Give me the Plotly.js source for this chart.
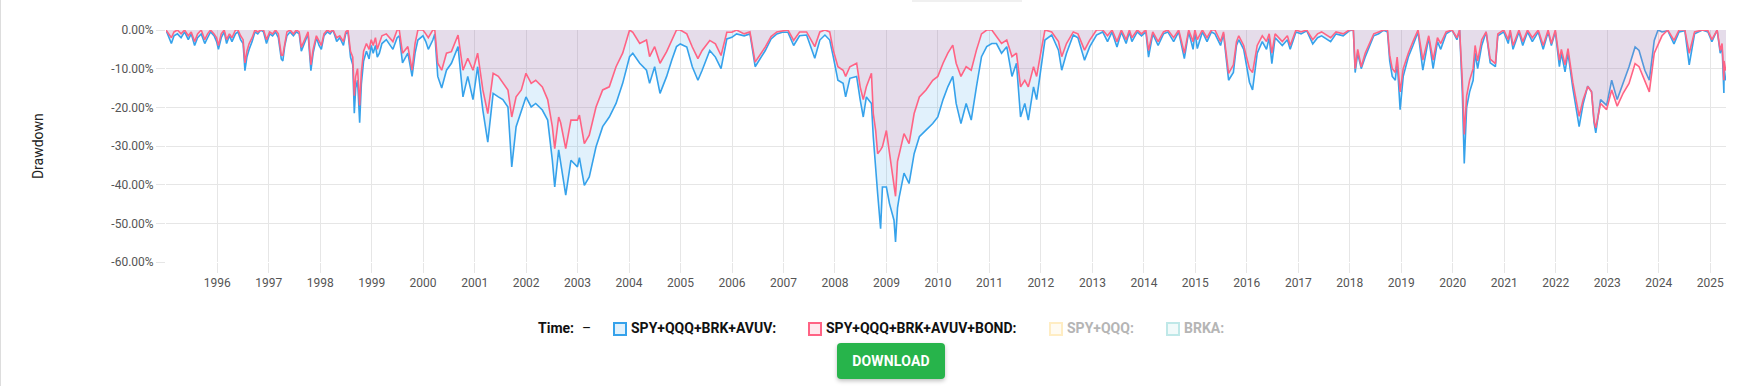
<!DOCTYPE html>
<html>
<head>
<meta charset="utf-8">
<script src="https://cdn.plot.ly/plotly-3.0.1.min.js"></script>
<style>
  html, body { margin:0; padding:0; background:#fff; width:1762px; height:386px; overflow:hidden; font-family: Roboto, "Noto Sans", sans-serif; }
  #chart { position:absolute; left:0; top:0; width:1762px; height:386px; }
  .edge { position:absolute; left:0; top:0; width:1px; height:386px; background:#dddddd; }
  .topshadow { position:absolute; left:912px; top:0; width:110px; height:2px; background:rgba(0,0,0,0.06); }
  .lg { position:absolute; top:319px; height:18px; line-height:18px; font-size:14px; font-weight:700; color:#111; white-space:nowrap; }
  .lg.off { color:#b5b5b5; }
  .box { position:absolute; top:322px; width:10px; height:10px; border:2px solid; }
  #dl { position:absolute; left:837px; top:343px; width:108px; height:36px; background:#27b44b; color:#fff; border:none; border-radius:4px;
        font-family: Roboto, sans-serif; font-size:14px; font-weight:700; letter-spacing:0.2px; box-shadow:0 2px 4px rgba(0,0,0,0.25); padding:0; }
</style>
</head>
<body>
<div id="chart"></div>
<div class="edge"></div>
<div class="topshadow"></div>
<div id="legend"></div>
<button id="dl">DOWNLOAD</button>
<script>
// ---------- DATA (drawdown %) ----------
const dates = [
  "1995-01-03","1995-01-25","1995-02-10","1995-03-01","1995-03-25","1995-04-20","1995-05-15","1995-06-10","1995-07-01","1995-07-25","1995-08-15","1995-09-10","1995-10-05","1995-10-25","1995-11-15","1995-12-10","1995-12-28",
  "1996-01-10","1996-01-30","1996-02-20","1996-03-08","1996-03-28","1996-04-15","1996-05-10","1996-05-28","1996-06-15","1996-07-03","1996-07-16","1996-07-30","1996-08-15","1996-09-05","1996-09-25","1996-10-15","1996-11-05","1996-11-25","1996-12-16",
  "1997-01-08","1997-01-28","1997-02-18","1997-03-10","1997-03-31","1997-04-11","1997-04-25","1997-05-10","1997-06-01","1997-06-25","1997-07-15","1997-08-05","1997-08-20","1997-09-05","1997-10-07","1997-10-27","1997-11-12","1997-12-05","1997-12-24",
  "1998-01-09","1998-01-28","1998-02-20","1998-03-12","1998-04-02","1998-04-28","1998-05-20","1998-06-15","1998-07-01","1998-07-17","1998-08-04","1998-08-20","1998-08-31","1998-09-10","1998-09-23","1998-10-08","1998-10-20","1998-11-05","1998-11-25","1998-12-14","1998-12-29",
  "1999-01-12","1999-01-28","1999-02-10","1999-02-25","1999-03-15","1999-04-15","1999-05-10","1999-06-01","1999-07-01","1999-07-16","1999-08-08","1999-09-15","1999-10-15","1999-11-05","1999-11-25","1999-12-31",
  "2000-01-20","2000-02-07","2000-03-10","2000-03-24","2000-04-14","2000-05-12","2000-06-15","2000-07-20","2000-09-05","2000-10-10","2000-11-13","2000-12-20",
  "2001-01-22","2001-02-28","2001-04-04","2001-05-12","2001-06-18","2001-07-20","2001-08-25","2001-09-21","2001-10-22","2001-11-28","2001-12-31",
  "2002-02-06","2002-03-10","2002-04-26","2002-06-03","2002-07-06","2002-07-23","2002-08-20","2002-09-03","2002-10-09","2002-11-15","2002-12-31",
  "2003-01-14","2003-02-18","2003-03-25","2003-05-12","2003-06-28","2003-08-14","2003-10-01","2003-11-17",
  "2004-01-05","2004-01-28","2004-03-17","2004-05-04","2004-05-26","2004-07-01","2004-08-08","2004-09-24","2004-10-30","2004-12-03","2004-12-30",
  "2005-02-14","2005-03-25","2005-05-04","2005-06-03","2005-07-27","2005-09-05","2005-10-15","2005-11-25","2005-12-31",
  "2006-02-02","2006-03-28","2006-05-08","2006-06-01","2006-06-14","2006-08-25","2006-10-05","2006-11-15","2006-12-24",
  "2007-02-02","2007-03-14","2007-04-25","2007-06-14","2007-08-11","2007-09-16","2007-10-22","2007-11-25","2007-12-20",
  "2008-01-22","2008-02-28","2008-03-17","2008-04-16","2008-06-03","2008-06-28","2008-07-20","2008-08-11","2008-09-16","2008-09-29","2008-10-16","2008-10-30","2008-11-20","2008-12-03","2008-12-31",
  "2009-01-22","2009-02-23","2009-03-06","2009-03-20","2009-04-01","2009-05-05","2009-06-10","2009-07-16","2009-08-22","2009-10-08","2009-11-25","2009-12-31",
  "2010-02-06","2010-03-12","2010-04-16","2010-05-10","2010-06-13","2010-07-20","2010-08-25","2010-10-01","2010-11-06","2010-12-13",
  "2011-01-18","2011-02-20","2011-03-28","2011-05-04","2011-06-10","2011-07-12","2011-08-10","2011-09-09","2011-10-04","2011-11-10","2011-12-02","2011-12-31",
  "2012-01-30","2012-03-18","2012-05-05","2012-05-28","2012-07-01","2012-08-18","2012-09-20","2012-11-06","2012-12-13",
  "2013-01-30","2013-03-15","2013-04-18","2013-05-20","2013-06-24","2013-07-25","2013-08-28","2013-09-20","2013-10-08","2013-11-15","2013-12-15",
  "2014-01-15","2014-02-03","2014-03-05","2014-04-12","2014-05-20","2014-06-20","2014-07-31","2014-09-05","2014-10-15","2014-11-15","2014-12-16","2014-12-29",
  "2015-01-15","2015-02-20","2015-03-25","2015-04-25","2015-05-20","2015-06-29","2015-07-20","2015-08-25","2015-09-28","2015-10-20","2015-11-05","2015-12-10",
  "2016-01-20","2016-02-11","2016-03-15","2016-04-20","2016-05-20","2016-06-08","2016-06-27","2016-07-20","2016-09-09","2016-10-15","2016-11-04","2016-12-15",
  "2017-01-20","2017-03-01","2017-04-13","2017-05-17","2017-06-15","2017-08-18","2017-09-25","2017-11-15","2017-12-28",
  "2018-01-26","2018-02-08","2018-02-26","2018-03-23","2018-04-20","2018-05-25","2018-06-20","2018-07-25","2018-08-29","2018-09-25","2018-10-11","2018-10-29","2018-11-20","2018-12-03","2018-12-24",
  "2019-01-15","2019-02-20","2019-03-25","2019-04-30","2019-06-03","2019-07-15","2019-08-15","2019-09-15","2019-10-08","2019-11-15","2019-12-27",
  "2020-01-31","2020-02-19","2020-03-09","2020-03-23","2020-04-03","2020-04-09","2020-04-30","2020-05-25","2020-06-08","2020-06-26","2020-07-25","2020-08-25","2020-09-23","2020-10-30","2020-11-16","2020-12-28",
  "2021-01-29","2021-02-12","2021-03-04","2021-04-15","2021-05-12","2021-06-15","2021-07-19","2021-08-30","2021-10-04","2021-11-08","2021-12-01","2021-12-29",
  "2022-01-27","2022-02-10","2022-03-08","2022-03-29","2022-05-02","2022-05-20","2022-06-16","2022-07-15","2022-08-16","2022-09-12","2022-09-30","2022-10-12","2022-11-15","2022-12-28",
  "2023-02-02","2023-03-13","2023-04-25","2023-06-05","2023-07-18","2023-08-15","2023-09-25","2023-10-27","2023-12-01","2023-12-28",
  "2024-01-25","2024-03-06","2024-04-19","2024-05-25","2024-07-05","2024-08-05","2024-09-12","2024-11-06","2024-12-16",
  "2025-01-13","2025-02-19","2025-03-13","2025-03-26","2025-04-04","2025-04-08","2025-04-09","2025-04-21","2025-04-23"
];

// SPY+QQQ+BRK+AVUV
const ddSpyQqqBrkAvuv = [
  0,-2,-3.5,-1.5,-1,-2,-0.5,-2.5,-1,-4,-2,-1,-3.5,-2,-0.5,-1.5,-3,
  -5,-2,-0.5,-3.5,-1.5,-3,-1,-0.5,-2.5,-3.5,-10.5,-7,-5,-3,-0.5,-1,0,-0.5,-3.5,
  -1,-1.5,-0.5,-2,-7.5,-8,-4,-1.5,-0.5,-1.5,-0.5,-1,-5.5,-4,-1,-10.5,-6,-2,-4,
  -5,-1.5,-0.5,-1,0,-3,-2,-4,-1,-0.5,-7,-9,-21.5,-15,-13,-24,-14,-8,-5.5,-7.5,-4,
  -6,-4,-7,-6,-3.5,-2.5,-4,-5,-2,-1.5,-8.5,-6,-12,-6,-2.6,-1.5,
  -3,-5,-2.6,-1,-12,-15,-10.4,-8.6,-4.3,-17.3,-12,-18,
  -9.5,-20.7,-29,-16.4,-17.3,-18,-19.9,-35.4,-25,-20.7,-17.3,
  -19.9,-19,-20.7,-23.3,-33.7,-40.6,-31,-34,-42.7,-33.7,-35.4,
  -33,-40.2,-38,-30.2,-25,-22.5,-19,-13.8,
  -6.9,-6,-8.6,-10.4,-13.8,-9.5,-16.4,-12,-7.8,-4.3,-3.6,
  -4.4,-9.5,-13,-10.4,-5.3,-7,-10,-2.3,-1.9,
  -1,-1.5,-1,-6,-9.5,-5.3,-2.3,-1,-0.6,
  -0.6,-4,-1.5,-1.3,-7.3,-2.6,-1.3,-2.6,-6.9,
  -13,-13.8,-17.3,-12.5,-12,-18,-22.5,-17.3,-19,-27.6,-37,-42.3,-51.4,-40.6,-40.6,
  -44.9,-49.2,-54.8,-46,-43.2,-37,-39.7,-32,-27.6,-25.9,-24.2,-22.5,
  -18,-14.7,-12,-19,-24.2,-19,-23.3,-14.7,-6.9,-4.3,
  -3.5,-3.5,-6,-4.3,-12,-8.6,-22.5,-19,-23.3,-14.7,-18,-10.4,
  -2.6,-1.3,-5.2,-10.4,-6,-1.3,-2,-7.8,-4.3,
  -1.3,-0.5,-3,-0.5,-4.4,-0.5,-3.5,-0.5,-3,-0.5,-1.5,
  -0.5,-7,-1,-4,-1,-0.5,-3,-0.5,-7.4,-0.5,-5,-0.5,
  -4.8,-0.5,-3,-0.5,-1,-4,-1,-13,-11,-4,-2.5,-5,
  -13.5,-15.5,-6,-3,-5,-2,-8.7,-2,-4,-2.5,-5,-0.5,
  -1,-0.2,-3.6,-2,-1.5,-3,-1,-1.5,-0.2,
  0,-11,-6,-10,-7,-4,-1.5,-1,0,-0.5,-8,-12,-13,-8,-20.6,
  -12,-7,-4,-0.5,-10.4,-2,-10,-3,-5,-1,0,
  -2.5,0,-16,-34.5,-25,-20,-16,-13,-6,-10,-4,-0.5,-8.5,-9.5,-1.5,-0.5,
  -3.5,-0.5,-5,-0.5,-4,-0.5,-3,-0.5,-5,-0.5,-4,-0.5,
  -9.5,-6,-10.8,-6,-15,-19,-25,-19,-14.5,-16,-24,-26.6,-18,-19.5,
  -13,-18,-13.8,-9.5,-4.4,-5.3,-10.4,-13,-2.7,0,
  -0.5,-0.2,-3.6,-0.5,-0.2,-9,-1,0,-0.5,
  -3,0,-6,-4,-12,-16.3,-10,-13,-12.5
];

// SPY+QQQ+BRK+AVUV+BOND
const ddSpyQqqBrkAvuvBond = [
  0,-1,-2,-0.5,0,-1,0,-1.5,-0.5,-3,-1,0,-2.5,-1,0,-1,-2,
  -4,-1,0,-2.5,-1,-2,0,0,-1.5,-2.5,-8.5,-5.5,-3.5,-2,0,-0.5,0,0,-2.5,
  -0.5,-1,0,-1,-6.5,-6.5,-3,-0.5,0,-1,0,-0.5,-4.5,-3,-0.5,-9,-5,-1.5,-3,
  -4,-1,0,-0.5,0,-2,-1.5,-3,-0.5,0,-5.5,-7,-17,-12,-10,-19.5,-11,-5.5,-3.5,-5,-2.5,
  -4,-2,-5,-3.5,-1.5,-1,-2,-3,0,0,-6,-4.3,-10.4,-3.5,0,0,
  -1,-2,0,0,-8.6,-10.4,-6,-5.6,-1.3,-10.4,-7.3,-10.4,
  -6,-15.5,-21.6,-11.2,-12,-13.8,-15.5,-22.5,-17.3,-15.5,-11.2,
  -13.8,-13,-14.7,-18,-25,-30.7,-22.5,-24,-30.7,-23.3,-23.3,
  -22,-29.4,-27.2,-19.9,-15.5,-14.7,-9.5,-6,
  0,-0.6,-3.5,-2.6,-6.9,-4.3,-8.6,-5.6,-2.6,0,0,
  -1,-4.4,-7.4,-5.3,-2.7,-3.6,-6.6,-0.6,-0.6,
  0,-1,-0.5,-5.3,-8.3,-4.4,-1.7,-0.5,-0.2,
  0,-2.7,-0.5,-0.5,-4.3,-0.5,0,-0.5,-5.2,
  -9.5,-10.4,-12,-9.5,-8.6,-14.7,-18,-14.7,-11.2,-21.6,-26,-32,-31,-30.2,-26,
  -32,-40.6,-43,-34,-32,-26.8,-29.4,-21.6,-17.3,-15.5,-13,-12,
  -8.6,-6,-3.9,-8.6,-12,-9.5,-10.4,-5.2,-1,0,
  0,-1.7,-3.5,-2.6,-6.9,-6,-14.7,-13,-14.7,-9.5,-12,-6,
  0,-0.5,-3,-6.9,-3.5,-0.5,-1,-5.2,-2.6,
  0,0,-1.5,0,-3,0,-2.5,0,-2,0,-1,
  0,-5.3,-0.5,-3,-0.5,0,-2,0,-6,0,-3,0,
  -2.5,0,-2,0,0,-3,-0.5,-11.2,-9,-3,-1.5,-4,
  -10,-11,-4,-1.5,-3,-1,-6,-1,-3,-1.5,-4,0,
  -0.5,0,-2.5,-1,-0.5,-2,-0.5,-1,0,
  0,-10,-5,-9.5,-6,-3,-1,-0.5,0,0,-6.5,-10,-11,-7,-16,
  -10,-6,-3,0,-7.8,-1.5,-7.8,-2,-3.5,-0.5,0,
  -2,0,-13,-27,-21,-17,-13,-10,-4,-8,-2.5,-0.5,-7.5,-8.7,-1,0,
  -2.5,0,-4,0,-3,0,-2,0,-4,0,-3.5,0,
  -7.8,-5,-9,-4.8,-13.5,-17,-22.3,-18,-14.6,-16,-23.5,-25.3,-19,-20.6,
  -15.5,-19.7,-16.3,-13.8,-8.7,-9.5,-13,-16,-6,-3.6,
  -1.5,0,-2.7,0,0,-6,-0.5,0,-0.2,
  -2.5,0,-5.3,-3.5,-9.5,-13,-8,-10.5,-10
];

const seriesNames = ["SPY+QQQ+BRK+AVUV:", "SPY+QQQ+BRK+AVUV+BOND:", "SPY+QQQ:", "BRKA:"];
const yTickVals = [0, -10, -20, -30, -40, -50, -60];
const yTickText = ["0.00%", "-10.00%", "-20.00%", "-30.00%", "-40.00%", "-50.00%", "-60.00%"];
const yAxisTitle = "Drawdown";
const timeLabel = "Time:";

// ---------- CHART ----------
const BLUE = "rgb(54,162,235)", PINK = "rgb(255,99,132)";
const GRID = "#e6e6e6";
const traces = [
  { x: dates, y: ddSpyQqqBrkAvuv, type: "scatter", mode: "lines", name: seriesNames[0],
    line: { color: BLUE, width: 1.6 }, fill: "tozeroy", fillcolor: "rgba(54,162,235,0.15)", hoverinfo: "skip" },
  { x: dates, y: ddSpyQqqBrkAvuvBond, type: "scatter", mode: "lines", name: seriesNames[1],
    line: { color: PINK, width: 1.6 }, fill: "tozeroy", fillcolor: "rgba(255,99,132,0.15)", hoverinfo: "skip" }
];
const layout = {
  width: 1762, height: 386,
  margin: { l: 166, r: 36, t: 30, b: 124, pad: 0 },
  paper_bgcolor: "rgba(0,0,0,0)", plot_bgcolor: "#fff",
  showlegend: false,
  font: { family: "Roboto, sans-serif", size: 12, color: "#555" },
  xaxis: {
    type: "date", range: [dates[0], dates[dates.length - 1]],
    tick0: "1996-01-01", dtick: "M12", tickformat: "%Y",
    showgrid: true, gridcolor: GRID, gridwidth: 1,
    ticks: "outside", ticklen: 10, tickcolor: GRID, tickwidth: 1,
    zeroline: false, showline: false,
    tickfont: { family: "Roboto, sans-serif", size: 12, color: "#555" }
  },
  yaxis: {
    range: [-60, 0], tickvals: yTickVals, ticktext: yTickText,
    showgrid: true, gridcolor: GRID, gridwidth: 1,
    ticks: "outside", ticklen: 9, tickcolor: GRID, tickwidth: 1,
    zeroline: false, showline: false,
    tickfont: { family: "Roboto, sans-serif", size: 12, color: "#555" }
  },
  annotations: [{
    text: yAxisTitle, xref: "paper", yref: "paper", x: -0.082, y: 0.5,
    xanchor: "center", yanchor: "middle", textangle: -90, showarrow: false,
    font: { family: "Roboto, sans-serif", size: 14, color: "#222" }
  }]
};
Plotly.newPlot("chart", traces, layout, { staticPlot: true, displayModeBar: false });

// ---------- LEGEND ----------
const legendItems = [
  { text: timeLabel, left: 538, off: false, box: null },
  { text: seriesNames[0], left: 631, off: false, box: { left: 613, border: BLUE, fill: "rgba(54,162,235,0.15)" } },
  { text: seriesNames[1], left: 826, off: false, box: { left: 808, border: PINK, fill: "rgba(255,99,132,0.15)" } },
  { text: seriesNames[2], left: 1067, off: true, box: { left: 1049, border: "rgba(255,206,86,0.3)", fill: "rgba(255,206,86,0.08)" } },
  { text: seriesNames[3], left: 1184, off: true, box: { left: 1166, border: "rgba(75,192,192,0.3)", fill: "rgba(75,192,192,0.08)" } }
];
const lg = document.getElementById("legend");
legendItems.forEach(it => {
  if (it.box) {
    const b = document.createElement("div");
    b.className = "box";
    b.style.left = it.box.left + "px";
    b.style.borderColor = it.box.border;
    b.style.background = it.box.fill;
    lg.appendChild(b);
  }
  const t = document.createElement("div");
  t.className = "lg" + (it.off ? " off" : "");
  t.style.left = it.left + "px";
  t.textContent = it.text;
  lg.appendChild(t);
});
const dash = document.createElement("div");
dash.className = "lg";
dash.style.left = "582px";
dash.style.fontWeight = "400";
dash.textContent = "–";
lg.appendChild(dash);
</script>
</body>
</html>
